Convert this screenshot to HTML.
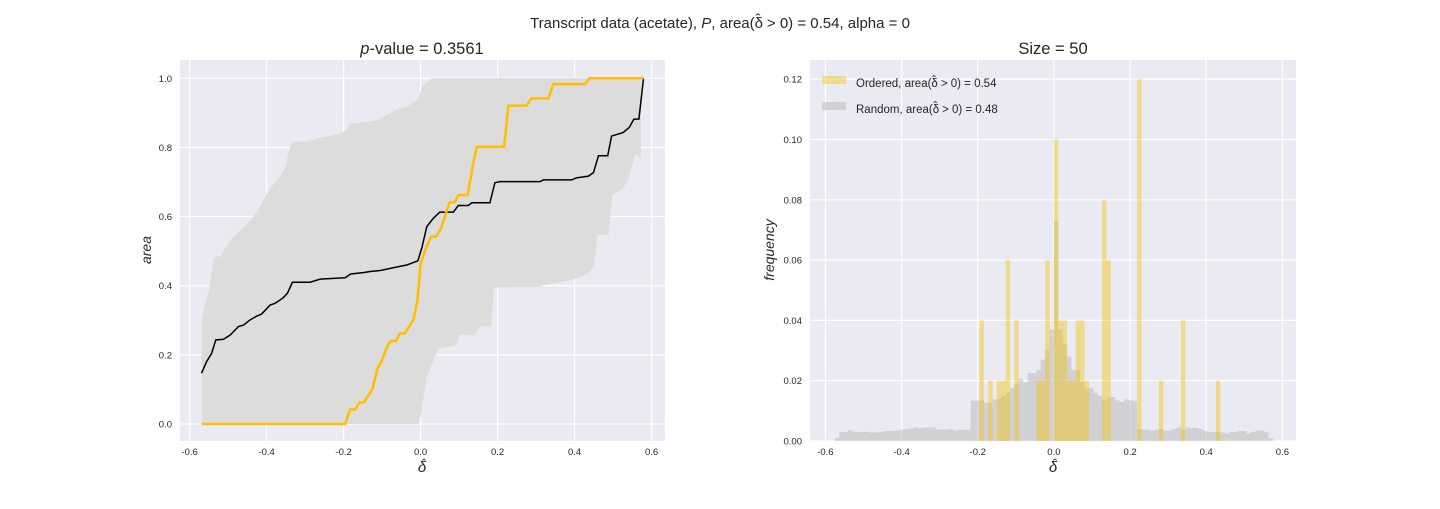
<!DOCTYPE html>
<html><head><meta charset="utf-8"><style>
body{margin:0;background:#fff;width:1440px;height:504px;overflow:hidden}
svg text{font-family:"Liberation Sans","DejaVu Sans",sans-serif;fill:#262626}
</style></head><body>
<svg id="c" width="1440" height="504" xmlns="http://www.w3.org/2000/svg"></svg>
<script>
// ---- Left chart data ----
const blackX=[-0.569,-0.556,-0.543,-0.532,-0.512,-0.495,-0.473,-0.460,-0.443,-0.426,-0.413,-0.391,-0.378,-0.357,-0.346,-0.333,-0.287,-0.261,-0.196,-0.182,-0.149,-0.131,-0.105,-0.071,-0.036,-0.019,-0.007,0.004,0.016,0.033,0.050,0.085,0.098,0.124,0.133,0.180,0.193,0.206,0.310,0.319,0.392,0.405,0.436,0.449,0.462,0.486,0.496,0.526,0.542,0.554,0.567,0.579];
const blackY=[0.147,0.180,0.204,0.243,0.245,0.257,0.282,0.286,0.301,0.312,0.318,0.344,0.349,0.365,0.378,0.410,0.410,0.419,0.423,0.434,0.438,0.441,0.444,0.452,0.460,0.467,0.472,0.513,0.571,0.595,0.613,0.613,0.632,0.632,0.640,0.640,0.698,0.701,0.701,0.706,0.706,0.712,0.717,0.727,0.776,0.776,0.833,0.843,0.858,0.882,0.882,1.0];
const yellowX=[-0.569,-0.196,-0.183,-0.170,-0.159,-0.147,-0.125,-0.112,-0.101,-0.086,-0.078,-0.064,-0.054,-0.041,-0.019,-0.008,0.000,0.013,0.027,0.040,0.053,0.075,0.088,0.098,0.122,0.135,0.146,0.217,0.228,0.275,0.288,0.332,0.345,0.427,0.438,0.579];
const yellowY=[0,0,0.042,0.042,0.063,0.063,0.101,0.161,0.183,0.226,0.240,0.240,0.262,0.262,0.301,0.359,0.465,0.505,0.542,0.542,0.566,0.641,0.641,0.662,0.662,0.744,0.802,0.802,0.921,0.921,0.942,0.942,0.983,0.983,1.0,1.0];
const upperX=[-0.569,-0.560,-0.549,-0.538,-0.532,-0.521,-0.508,-0.486,-0.471,-0.456,-0.434,-0.417,-0.399,-0.382,-0.365,-0.350,-0.344,-0.333,-0.296,-0.283,-0.270,-0.244,-0.213,-0.192,-0.183,-0.131,-0.114,-0.079,-0.054,-0.036,-0.006,0.003,0.029,0.572];
const upperY=[0.291,0.349,0.388,0.474,0.484,0.484,0.508,0.542,0.558,0.571,0.600,0.629,0.667,0.693,0.716,0.744,0.783,0.817,0.817,0.821,0.826,0.831,0.838,0.850,0.868,0.875,0.879,0.899,0.913,0.918,0.939,0.974,1.0,1.0];
const lowerX=[-0.569,-0.006,0.000,0.016,0.020,0.037,0.046,0.089,0.102,0.141,0.154,0.184,0.190,0.197,0.310,0.319,0.392,0.414,0.436,0.451,0.456,0.459,0.488,0.498,0.526,0.539,0.553,0.560,0.572];
const lowerY=[0,0,0.021,0.137,0.147,0.195,0.219,0.226,0.257,0.259,0.282,0.282,0.392,0.395,0.397,0.402,0.417,0.425,0.436,0.455,0.503,0.547,0.547,0.662,0.682,0.706,0.764,0.783,0.768];
const leftXTicks=[-0.6,-0.4,-0.2,0.0,0.2,0.4,0.6];
const leftYTicks=[0.0,0.2,0.4,0.6,0.8,1.0];
// ---- Right chart data ----
const binStart=-0.575, binWidth=0.0115;
const randomFreq=[0.001,0.003,0.003,0.0035,0.003,0.003,0.003,0.003,0.0028,0.0028,
0.003,0.0033,0.0033,0.0033,0.0035,0.0038,0.004,0.0042,0.0045,0.0043,
0.0045,0.0045,0.0045,0.0038,0.0038,0.0038,0.004,0.0035,0.0037,0.0037,
0.0038,0.0134,0.0134,0.0135,0.0128,0.0125,0.0138,0.014,0.015,0.016,
0.0175,0.019,0.0205,0.0195,0.0225,0.0225,0.0235,0.027,0.03,0.037,
0.073,0.037,0.032,0.028,0.0235,0.0235,0.0195,0.0175,0.0175,0.016,
0.015,0.0135,0.0142,0.0146,0.0135,0.013,0.0138,0.0135,0.0132,0.004,
0.0038,0.0038,0.0035,0.0038,0.004,0.0035,0.0035,0.004,0.0045,0.0038,
0.0045,0.0043,0.0043,0.004,0.0033,0.003,0.003,0.003,0.0028,0.0025,
0.003,0.003,0.0033,0.0033,0.0025,0.003,0.0035,0.0035,0.003,0.001];
const orderedCenters=[-0.189,-0.165,-0.147,-0.135,-0.118,-0.095,-0.040,-0.028,-0.013,0.0,0.012,0.024,0.035,0.046,0.058,0.070,0.092,0.127,0.139,0.220,0.281,0.340,0.430];
const orderedFreq=[0.04,0.02,0.02,0.02,0.06,0.04,0.02,0.02,0.06,0.10,0.04,0.04,0.02,0.02,0.04,0.04,0.02,0.08,0.06,0.12,0.02,0.04,0.02];
const rightXTicks=[-0.6,-0.4,-0.2,0.0,0.2,0.4,0.6];
const rightYTicks=[0.00,0.02,0.04,0.06,0.08,0.10,0.12];

const NS="http://www.w3.org/2000/svg", svg=document.getElementById('c');
function el(t,a,p){const e=document.createElementNS(NS,t);for(const k in a)e.setAttribute(k,a[k]);(p||svg).appendChild(e);return e;}
function txt(s,a,p){const e=el('text',a,p);e.textContent=s;return e;}

const L={x0:180,x1:665,y0:60,y1:441};
const lx=v=>420.6+v*385, ly=a=>424-a*345.7;
const R={x0:810,x1:1296,y0:60,y1:441};
const rx=v=>1053.9+v*380.8, ry=f=>441-f*3015;

function axes(A,name,xt,yt,fx,fy,fmtY){
  const g=el('g',{});
  el('rect',{x:A.x0,y:A.y0,width:A.x1-A.x0,height:A.y1-A.y0,fill:'#eaeaf2'},g);
  xt.forEach(v=>{const x=fx(v);
    const l=el('line',{x1:x,x2:x,y1:A.y0,y2:A.y1,stroke:'#fff','stroke-width':1.2},g);
    
    const t=txt(v.toFixed(1),{x:x,y:A.y1+14,'font-size':9.5,'text-anchor':'middle'},g);
    });
  yt.forEach(v=>{const y=fy(v);
    const l=el('line',{x1:A.x0,x2:A.x1,y1:y,y2:y,stroke:'#fff','stroke-width':1.2},g);
    
    const t=txt(fmtY(v),{x:A.x0-8,y:y+3.5,'font-size':9.5,'text-anchor':'end'},g);
    });
  return g;
}
axes(L,'left-axes',leftXTicks,leftYTicks,lx,ly,v=>v.toFixed(1));
axes(R,'right-axes',rightXTicks,rightYTicks,rx,ry,v=>v.toFixed(2));

let pts=upperX.map((v,i)=>lx(v)+','+ly(upperY[i]));
for(let i=lowerX.length-1;i>=0;i--)pts.push(lx(lowerX[i])+','+ly(lowerY[i]));
const band=el('polygon',{points:pts.join(' '),fill:'#dcdcdc'});


const bl=el('polyline',{points:blackX.map((v,i)=>lx(v)+','+ly(blackY[i])).join(' '),fill:'none',stroke:'#000','stroke-width':1.5});


const yl=el('polyline',{points:yellowX.map((v,i)=>lx(v)+','+ly(yellowY[i])).join(' '),fill:'none',stroke:'#ffbf00','stroke-width':2.5});



randomFreq.forEach((f,i)=>{const x0=rx(binStart+i*binWidth),x1=rx(binStart+(i+1)*binWidth);
  const r=el('rect',{x:x0,y:ry(f),width:x1-x0,height:ry(0)-ry(f),fill:'#b8b8b8','fill-opacity':0.5});
  
  });
orderedCenters.forEach((c,i)=>{const k=Math.floor((c-binStart)/binWidth);const x0=rx(binStart+k*binWidth),x1=rx(binStart+(k+1)*binWidth);
  const f=orderedFreq[i];
  const r=el('rect',{x:x0,y:ry(f),width:x1-x0,height:ry(0)-ry(f),fill:'#f5c000','fill-opacity':0.42});
  
  });

function hatHTML(fs){const up=Math.round(fs*0.25);return 'δ<tspan dx="'+(-fs*0.5)+'" dy="'+(-up)+'">ˆ</tspan><tspan dy="'+up+'" dx="'+(fs*0.15)+'"> &gt; 0)';}

const lg=el('g',{});
el('rect',{x:822,y:76,width:24,height:8,fill:'#f5c000','fill-opacity':0.42},lg);
const lt1=txt('',{x:856,y:87,'font-size':11.5},lg);lt1.innerHTML='Ordered, area('+hatHTML(11.5)+' = 0.54</tspan>';
el('rect',{x:822,y:102,width:24,height:8,fill:'#b8b8b8','fill-opacity':0.5},lg);
const lt2=txt('',{x:856,y:113,'font-size':11.5},lg);lt2.innerHTML='Random, area('+hatHTML(11.5)+' = 0.48</tspan>';

const t1=txt('',{x:720,y:28,'font-size':15,'text-anchor':'middle'});t1.innerHTML='Transcript data (acetate), <tspan font-style="italic">P</tspan>, area('+hatHTML(15)+' = 0.54, alpha = 0</tspan>';

const t2=txt('',{x:422,y:54,'font-size':16.5,'text-anchor':'middle'});t2.innerHTML='<tspan font-style="italic">p</tspan>-value = 0.3561';

const t3=txt('Size = 50',{x:1053,y:54,'font-size':16.5,'text-anchor':'middle'});

const a1=txt('δ',{x:422,y:472,'font-size':15,'text-anchor':'middle','font-style':'italic'});

txt('ˆ',{x:424,y:468,'font-size':13,'text-anchor':'middle'});
const a2=txt('δ',{x:1053,y:472,'font-size':15,'text-anchor':'middle','font-style':'italic'});

txt('ˆ',{x:1055,y:468,'font-size':13,'text-anchor':'middle'});
const a3=txt('area',{x:0,y:0,'font-size':14,'text-anchor':'middle','font-style':'italic',transform:'translate(151,250) rotate(-90)'});

const a4=txt('frequency',{x:0,y:0,'font-size':14,'text-anchor':'middle','font-style':'italic',transform:'translate(774,250) rotate(-90)'});

</script>
</body></html>
